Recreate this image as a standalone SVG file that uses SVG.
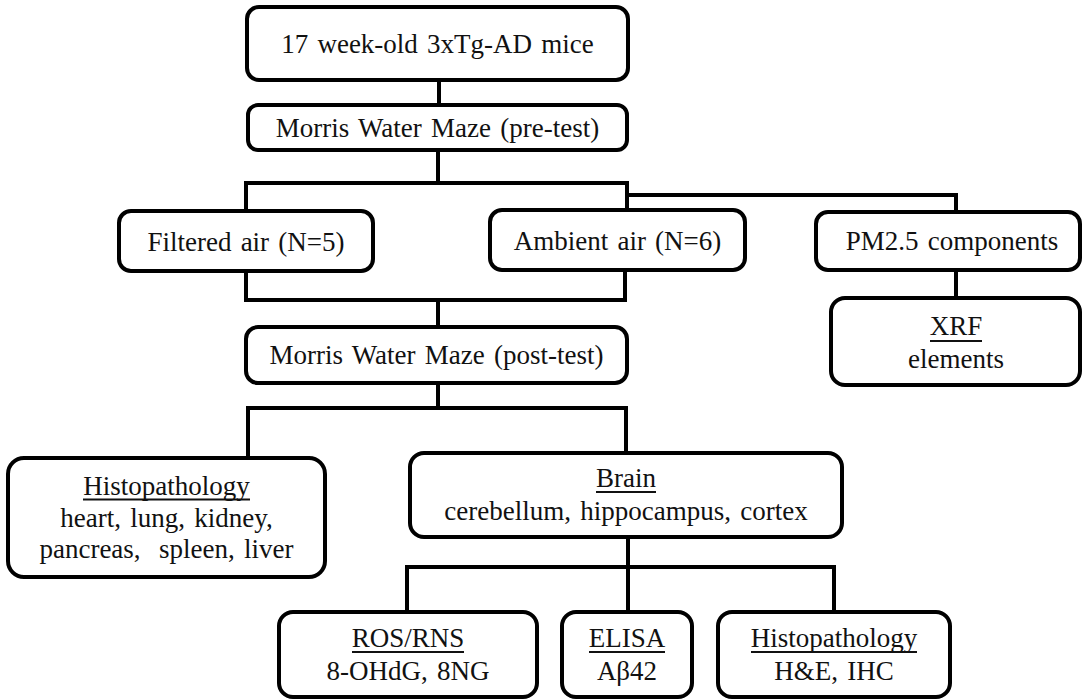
<svg xmlns="http://www.w3.org/2000/svg" width="1084" height="699" viewBox="0 0 1084 699">
<style>
  .box { fill: #ffffff; stroke: #000000; stroke-width: 4; }
  .t { font-family: "Liberation Serif", "Times New Roman", serif; font-size: 27px; fill: #111111; text-anchor: middle; word-spacing: 2.5px; white-space: pre; }
  .ul { stroke: #111111; stroke-width: 2; }
  .conn { fill: none; stroke: #000000; stroke-width: 4; stroke-linejoin: miter; }
</style>
<rect x="0" y="0" width="1084" height="699" fill="#ffffff"/>
<g id="connectors">
  <path class="conn" d="M439,80 V106"/>
  <path class="conn" d="M438,150 V183"/>
  <path class="conn" d="M246,212 V183 H627 V211"/>
  <path class="conn" d="M627,195 H956 V213"/>
  <path class="conn" d="M246,270 V300 H625 V269"/>
  <path class="conn" d="M438,300 V328"/>
  <path class="conn" d="M956,269 V299"/>
  <path class="conn" d="M438,382 V408"/>
  <path class="conn" d="M248,459 V408 H626 V454"/>
  <path class="conn" d="M628,536 V567"/>
  <path class="conn" d="M407,613 V567 H834 V613"/>
  <path class="conn" d="M628,567 V613"/>
</g>
<g id="mice">
  <rect class="box" x="247" y="7" width="381" height="73" rx="12"/>
  <text class="t" x="437.5" y="53">17 week-old 3xTg-AD mice</text>
</g>
<g id="pretest">
  <rect class="box" x="248" y="105" width="379" height="45" rx="10"/>
  <text class="t" x="437.5" y="137">Morris Water Maze (pre-test)</text>
</g>
<g id="filtered">
  <rect class="box" x="119" y="211" width="254" height="60" rx="12"/>
  <text class="t" x="246" y="251">Filtered air (N=5)</text>
</g>
<g id="ambient">
  <rect class="box" x="490" y="210" width="255" height="60" rx="12"/>
  <text class="t" x="617.5" y="250">Ambient air (N=6)</text>
</g>
<g id="pm25">
  <rect class="box" x="816" y="212" width="264" height="58" rx="12"/>
  <text class="t" x="952" y="250">PM2.5 components</text>
</g>
<g id="xrf">
  <rect class="box" x="831" y="298" width="249" height="87" rx="14"/>
  <text class="t" x="956" y="335">XRF</text>
  <line class="ul" x1="930" y1="341" x2="982" y2="341"/>
  <text class="t" x="956" y="368">elements</text>
</g>
<g id="posttest">
  <rect class="box" x="246" y="327" width="381" height="56" rx="12"/>
  <text class="t" x="436.5" y="364">Morris Water Maze (post-test)</text>
</g>
<g id="histo-organs">
  <rect class="box" x="8" y="458" width="317" height="119" rx="16"/>
  <text class="t" x="166.5" y="495">Histopathology</text>
  <line class="ul" x1="83" y1="499.5" x2="250" y2="499.5"/>
  <text class="t" x="166.5" y="527">heart, lung, kidney,</text>
  <text class="t" x="166.5" y="558">pancreas,  spleen, liver</text>
</g>
<g id="brain">
  <rect class="box" x="410" y="453" width="432" height="84" rx="14"/>
  <text class="t" x="626" y="487">Brain</text>
  <line class="ul" x1="596" y1="492" x2="656" y2="492"/>
  <text class="t" x="626" y="520">cerebellum, hippocampus, cortex</text>
</g>
<g id="ros">
  <rect class="box" x="279" y="612" width="258" height="85" rx="14"/>
  <text class="t" x="408" y="647">ROS/RNS</text>
  <line class="ul" x1="352" y1="652" x2="464" y2="652"/>
  <text class="t" x="408" y="680">8-OHdG, 8NG</text>
</g>
<g id="elisa">
  <rect class="box" x="562" y="612" width="130" height="85" rx="14"/>
  <text class="t" x="627" y="647">ELISA</text>
  <line class="ul" x1="589" y1="652" x2="665" y2="652"/>
  <text class="t" x="627" y="680">Aβ42</text>
</g>
<g id="histo-brain">
  <rect class="box" x="718" y="612" width="232" height="85" rx="14"/>
  <text class="t" x="834" y="647">Histopathology</text>
  <line class="ul" x1="751" y1="652" x2="917" y2="652"/>
  <text class="t" x="834" y="680">H&amp;E, IHC</text>
</g>
</svg>
